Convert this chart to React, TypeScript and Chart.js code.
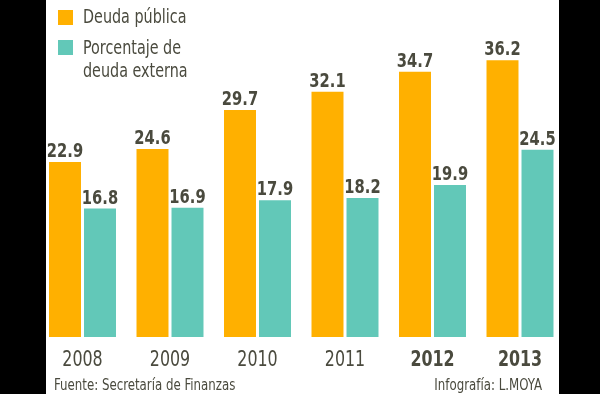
import React, { useEffect, useRef } from "react";
import { Chart, registerables } from "chart.js";

Chart.register(...registerables);

const years = ["2008", "2009", "2010", "2011", "2012", "2013"];
const boldYears = ["2012", "2013"];
const deudaPublica = [22.9, 24.6, 29.7, 32.1, 34.7, 36.2];
const deudaExterna = [16.8, 16.9, 17.9, 18.2, 19.9, 24.5];
const seriesNames = ["Deuda pública", "Porcentaje de\ndeuda externa"];
const sourceText = "Fuente: Secretaría de Finanzas";
const creditText = "Infografía: L.MOYA";

const FONT = "'Liberation Sans Narrow', 'DejaVu Sans Condensed', 'DejaVu Sans', sans-serif";
const TEXT = "#4a4a3e";
const ORANGE = "#FFB000";
const TEAL = "#62C8B8";

function drawText(
  ctx: CanvasRenderingContext2D,
  text: string,
  x: number,
  y: number,
  font: string,
  align: CanvasTextAlign,
  sx: number
) {
  ctx.save();
  ctx.font = font;
  ctx.fillStyle = TEXT;
  ctx.textAlign = align;
  ctx.textBaseline = "alphabetic";
  ctx.translate(x, y);
  ctx.scale(sx, 1);
  ctx.fillText(text, 0, 0);
  ctx.restore();
}

const framePlugin = {
  id: "frame",
  beforeDraw(chart: any) {
    const { ctx, width, height } = chart;
    ctx.save();
    ctx.fillStyle = "#000";
    ctx.fillRect(0, 0, width, height);
    ctx.fillStyle = "#fff";
    ctx.fillRect(46, 0, 513, height);
    ctx.restore();
  },
  afterDatasetsDraw(chart: any) {
    const { ctx } = chart;
    // value labels
    chart.data.datasets.forEach((ds: any, di: number) => {
      const meta = chart.getDatasetMeta(di);
      meta.data.forEach((bar: any, i: number) => {
        drawText(ctx, ds.data[i].toFixed(1), bar.x, bar.y - 5, `bold 19px ${FONT}`, "center", 0.86);
      });
    });
    // year labels from the x scale
    const xs = chart.scales.x;
    const base = chart.chartArea.bottom;
    chart.data.labels.forEach((lab: string, i: number) => {
      const bold = boldYears.includes(lab);
      drawText(ctx, lab, xs.getPixelForValue(i), base + 29, `${bold ? "bold " : ""}20.5px ${FONT}`, "center", 0.86);
    });
    // legend
    const colors = [ORANGE, TEAL];
    const squareY = [10, 40];
    const lineBase = [[23], [54, 77]];
    seriesNames.forEach((name, i) => {
      ctx.save();
      ctx.fillStyle = colors[i];
      ctx.fillRect(58, squareY[i], 15, 15);
      ctx.restore();
      name.split("\n").forEach((line, j) => {
        drawText(ctx, line, 83, lineBase[i][j], `19px ${FONT}`, "left", 0.84);
      });
    });
    // footer
    drawText(ctx, sourceText, 54, 390, `16px ${FONT}`, "left", 0.82);
    drawText(ctx, creditText, 542, 390, `16px ${FONT}`, "right", 0.82);
  },
};

export default function App() {
  const ref = useRef<HTMLCanvasElement>(null);
  useEffect(() => {
    const chart = new Chart(ref.current!, {
      type: "bar",
      data: {
        labels: years,
        datasets: [
          { label: seriesNames[0], data: deudaPublica, backgroundColor: ORANGE },
          { label: seriesNames[1], data: deudaExterna, backgroundColor: TEAL },
        ],
      },
      options: {
        animation: false,
        responsive: false,
        devicePixelRatio: 1,
        layout: { padding: { left: 38.75, right: 36.25, top: 0, bottom: 57 } },
        datasets: { bar: { categoryPercentage: 0.8, barPercentage: 0.914 } },
        plugins: { legend: { display: false }, tooltip: { enabled: false } },
        scales: {
          y: { display: false, min: 0, max: 44.1 },
          x: { display: false },
        },
      },
      plugins: [framePlugin],
    });
    return () => chart.destroy();
  }, []);
  return (
    <div style={{ position: "fixed", left: 0, top: 0, width: 600, height: 394, background: "#000" }}>
      <canvas ref={ref} width={600} height={394} style={{ display: "block" }} />
    </div>
  );
}
